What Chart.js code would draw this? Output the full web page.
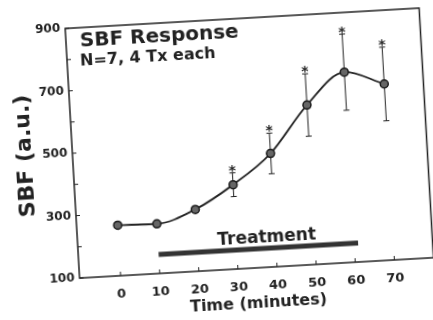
<!DOCTYPE html>
<html>
<head>
<meta charset="utf-8">
<script src="https://cdn.jsdelivr.net/npm/chart.js@4"></script>
<style>
  html, body { margin: 0; padding: 0; background: #fff; }
  #wrap { width: 433px; height: 320px; overflow: hidden; }
  /* the scanned figure sits a little crooked on the page */
  #chart { transform: rotate(-3.3deg); transform-origin: 50% 50%; }
</style>
</head>
<body>
<div id="wrap"><canvas id="chart" width="433" height="320"></canvas></div>
<script>
  // data
  const timeMin = [0, 10, 20, 30, 40, 50, 60, 70];
  const sbfMean = [262, 259, 298, 370, 463, 611, 709, 664];
  const sbfErr  = [0, 0, 0, 38, 65, 100, 122, 118];
  const signif  = [false, false, false, true, true, true, true, true];
  const xTicks = [0, 10, 20, 30, 40, 50, 60, 70];
  const yTickMarks = [100, 200, 300, 400, 500, 600, 700, 800, 900];
  const treatStart = 10;
  const treatEnd = 61;
  const treatLevel = 161;

  const ink = "#222";
  const fam = "'DejaVu Sans', sans-serif";

  const extras = {
    id: "extras",
    beforeDatasetsDraw(chart) {
      const { ctx, scales: { x, y } } = chart;
      ctx.save();
      ctx.strokeStyle = ink;
      ctx.lineWidth = 1;
      ctx.fillStyle = ink;
      ctx.font = "bold 14px " + fam;
      ctx.textAlign = "center";
      ctx.textBaseline = "alphabetic";
      timeMin.forEach((t, i) => {
        if (!sbfErr[i]) return;
        const px = x.getPixelForValue(t);
        const top = y.getPixelForValue(sbfMean[i] + sbfErr[i]);
        const bot = y.getPixelForValue(sbfMean[i] - sbfErr[i]);
        ctx.beginPath();
        ctx.moveTo(px, top); ctx.lineTo(px, bot);
        ctx.moveTo(px - 3, top); ctx.lineTo(px + 3, top);
        ctx.moveTo(px - 3, bot); ctx.lineTo(px + 3, bot);
        ctx.stroke();
        if (signif[i]) ctx.fillText("*", px, top + 2);
      });
      ctx.restore();
    },
    afterDraw(chart) {
      const { ctx, chartArea: a, scales: { x, y } } = chart;
      ctx.save();
      // frame + inward ticks
      ctx.strokeStyle = ink;
      ctx.lineWidth = 1.5;
      ctx.strokeRect(a.left, a.top, a.right - a.left, a.bottom - a.top);
      ctx.lineWidth = 1;
      ctx.beginPath();
      xTicks.forEach(v => {
        const px = x.getPixelForValue(v);
        ctx.moveTo(px, a.bottom); ctx.lineTo(px, a.bottom - 4);
      });
      yTickMarks.forEach(v => {
        const py = y.getPixelForValue(v);
        ctx.moveTo(a.left, py); ctx.lineTo(a.left + 4, py);
      });
      ctx.stroke();

      // panel text
      ctx.fillStyle = ink;
      ctx.textAlign = "left";
      ctx.textBaseline = "alphabetic";
      ctx.font = "bold 20px " + fam;
      ctx.fillText("SBF Response", a.left + 14, a.top + 19);
      ctx.font = "bold 16px " + fam;
      ctx.fillText("N=7, 4 Tx each", a.left + 13, a.top + 38);

      ctx.textAlign = "center";
      ctx.font = "bold 17px " + fam;
      const tx = x.getPixelForValue((treatStart + treatEnd) / 2) + 9;
      ctx.fillText("Treatment", tx, y.getPixelForValue(treatLevel) - 6);
      ctx.restore();
    }
  };

  new Chart(document.getElementById("chart"), {
    type: "line",
    data: {
      datasets: [
        {
          data: timeMin.map((t, i) => ({ x: t, y: sbfMean[i] })),
          borderColor: ink,
          borderWidth: 1.8,
          cubicInterpolationMode: "monotone",
          pointRadius: 4,
          pointBackgroundColor: "#666",
          pointBorderColor: "#1a1a1a",
          pointBorderWidth: 1.5
        },
        {
          data: [{ x: treatStart, y: treatLevel }, { x: treatEnd, y: treatLevel }],
          borderColor: "#333",
          borderWidth: 5,
          borderCapStyle: "butt",
          pointRadius: 0
        }
      ]
    },
    options: {
      responsive: false,
      animation: false,
      layout: { padding: { top: 20, right: 2, left: 0, bottom: 0 } },
      plugins: { legend: { display: false }, tooltip: { enabled: false } },
      scales: {
        x: {
          type: "linear",
          min: -10.5,
          max: 80,
          afterBuildTicks: s => { s.ticks = xTicks.map(v => ({ value: v })); },
          afterFit: s => { s.height = 50; },
          grid: { display: false, drawTicks: false },
          border: { display: false },
          ticks: { color: ink, padding: 11, maxRotation: 0, font: { family: fam, size: 13, weight: "bold" } },
          title: { display: true, text: "Time (minutes)", color: ink, padding: { top: 0, bottom: 5 },
                   font: { family: fam, size: 16, weight: "bold" } }
        },
        y: {
          min: 100,
          max: 900,
          afterFit: s => { s.width = 73; },
          grid: { display: false, drawTicks: false },
          border: { display: false },
          ticks: { stepSize: 200, color: ink, padding: 5, font: { family: fam, size: 12, weight: "bold" } },
          title: { display: true, text: "SBF (a.u.)", color: ink, padding: { top: 13, bottom: 0 },
                   font: { family: fam, size: 22, weight: "bold" } }
        }
      }
    },
    plugins: [extras]
  });
</script>
</body>
</html>
